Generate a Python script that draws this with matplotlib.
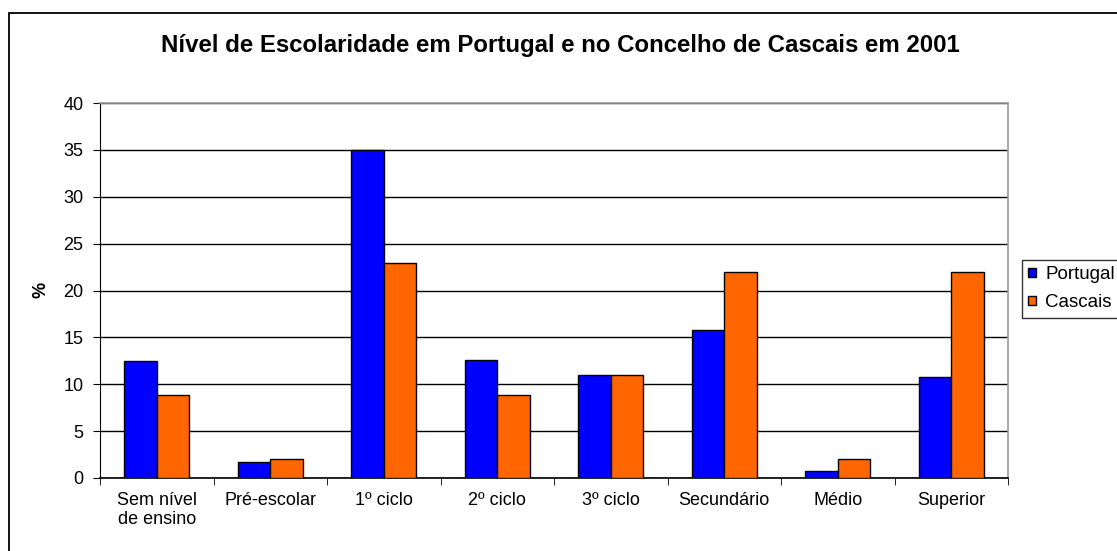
import matplotlib
matplotlib.use("Agg")
import matplotlib.pyplot as plt
import numpy as np
from matplotlib.patches import Rectangle

categories = ["Sem nível\nde ensino", "Pré-escolar", "1º ciclo", "2º ciclo",
              "3º ciclo", "Secundário", "Médio", "Superior"]
portugal = [12.5, 1.7, 35.0, 12.6, 11.0, 15.8, 0.8, 10.8]
cascais = [8.9, 2.0, 22.9, 8.9, 11.0, 22.0, 2.0, 22.0]
series_names = ["Portugal", "Cascais"]
yticks = [0, 5, 10, 15, 20, 25, 30, 35, 40]
title = "Nível de Escolaridade em Portugal e no Concelho de Cascais em 2001"

plt.rcParams['font.family'] = ['Liberation Sans', 'DejaVu Sans']

W, H = 1117, 551
fig = plt.figure(figsize=(W / 100, H / 100), dpi=100)
ax = fig.add_axes([100 / W, 1 - 478 / H, (1008 - 100) / W, (478 - 103) / H])

x = np.arange(len(categories))
bw = 0.285
ax.bar(x - bw / 2, portugal, bw, color="#0000FF", edgecolor="black", linewidth=1, label=series_names[0], zorder=3)
ax.bar(x + bw / 2, cascais, bw, color="#FF6600", edgecolor="black", linewidth=1, label=series_names[1], zorder=3)

ax.set_xlim(-0.5, len(categories) - 0.5)
ax.set_ylim(0, 40)
ax.set_yticks(yticks)
ax.set_yticklabels([str(v) for v in yticks], fontsize=13)
ax.yaxis.grid(True, color="black", linewidth=1, zorder=0)
ax.set_axisbelow(True)

ax.set_xticks(x)
ax.set_xticklabels(categories, fontsize=13)
ax.set_xticks(np.arange(-0.5, len(categories)), minor=True)
ax.tick_params(axis="x", which="major", length=0, pad=10)
ax.tick_params(axis="x", which="minor", length=5, color="black", direction="out")
ax.tick_params(axis="y", length=5, color="black", direction="out", pad=7)

for s in ["top", "right"]:
    ax.spines[s].set_color("#9a9a9a")
    ax.spines[s].set_linewidth(1.2)
ax.spines["left"].set_color("black")
ax.spines["bottom"].set_color("black")
ax.spines["bottom"].set_linewidth(1.2)

fig.text(41 / W, 1 - 290 / H, "%", rotation=90, ha="center", va="center",
         fontsize=13, fontweight="bold")

fig.text(560 / W, 1 - 52 / H, title, ha="center", va="baseline", fontsize=17.3, fontweight="bold")

leg = fig.legend(loc="upper left", bbox_to_anchor=(1021.5 / W, 1 - 259.5 / H), fontsize=13.5,
                 frameon=True, fancybox=False, edgecolor="black", handlelength=0.42,
                 handleheight=0.42, handletextpad=0.5, borderpad=0.35, labelspacing=0.6,
                 borderaxespad=0)
leg.get_frame().set_linewidth(1)

fig.patches.append(Rectangle((8.5 / W, -0.1), 1.2, 1 - 13 / H + 0.1, transform=fig.transFigure,
                             fill=False, edgecolor="black", linewidth=1.3, clip_on=False))

fig.savefig("out.png", dpi=100)
